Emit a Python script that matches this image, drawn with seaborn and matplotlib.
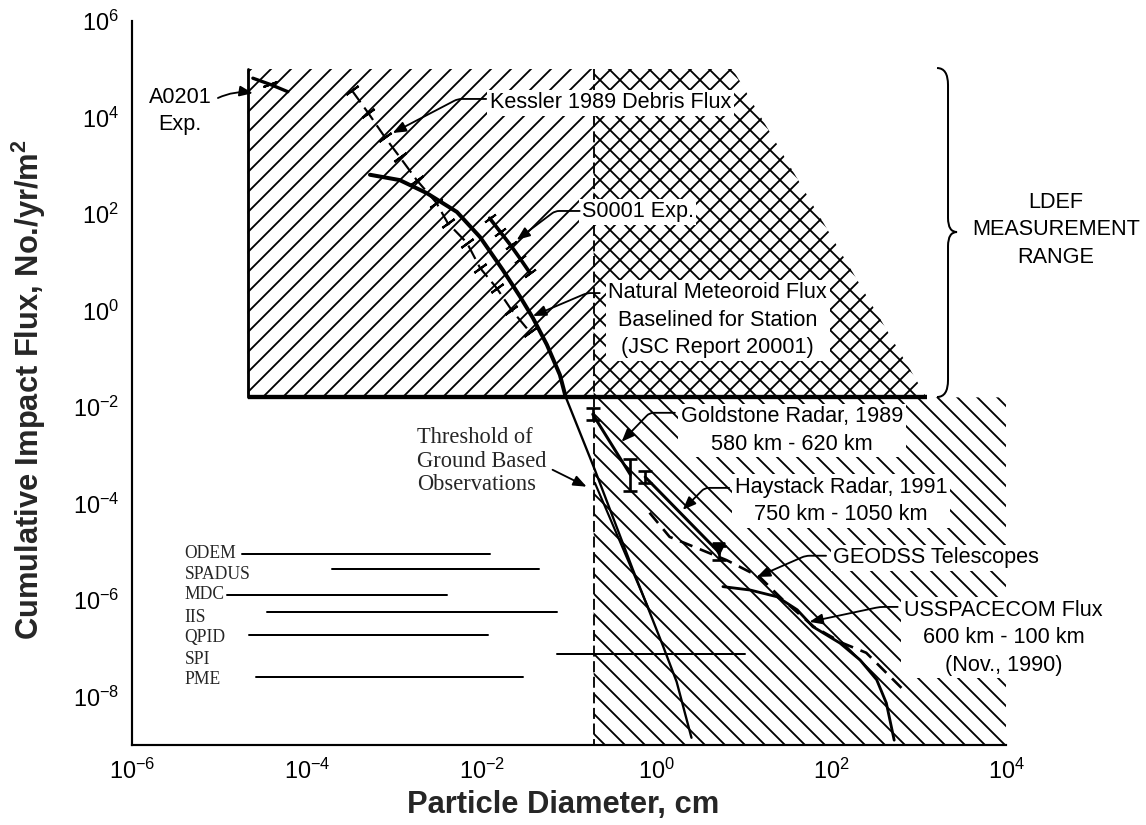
import numpy as np
import pandas as pd
import matplotlib
matplotlib.use("Agg")
import matplotlib.pyplot as plt
import seaborn as sns
from matplotlib.path import Path
from matplotlib.patches import PathPatch
from matplotlib.ticker import FixedLocator, FuncFormatter, NullLocator

# ---------------- data (log10 of diameter [cm] and of flux [No./yr/m2]) ----
# LDEF measurement range polygon
ldef_logx = [-4.68, 0.87, 3.09, -4.68]
ldef_logy = [5.0, 5.0, -1.8, -1.8]
# ground-based observation range polygon
ground_logx = [-0.72, 4.0, 4.0, 3.09, 0.87, -0.72]
ground_logy = [-9.0, -9.0, -1.8, -1.8, 5.0, 5.0]
threshold_logx = -0.72  # threshold of ground based observations (~0.19 cm)

# natural meteoroid flux
met_logx = [-3.28, -2.94, -2.63, -2.285, -2.02, -1.76, -1.56, -1.415, -1.255, -1.106, -1.04]
met_logy = [2.81, 2.70, 2.43, 2.04, 1.52, 0.84, 0.28, -0.155, -0.71, -1.335, -1.79]
met_low_logx = [-1.04, -0.706, -0.27, 0.07, 0.23, 0.40]
met_low_logy = [-1.79, -3.30, -5.37, -6.93, -7.69, -8.85]
thr_logx = [-0.706, -0.08]
thr_logy = [-3.57, -6.22]

# Kessler 1989 debris flux
kessler_logx = [-3.49, -3.30, -3.11, -2.94, -2.745, -2.52, -2.39, -2.17, -2.02, -1.83, -1.66, -1.45]
kessler_logy = [4.565, 4.09, 3.59, 3.18, 2.70, 2.23, 1.81, 1.40, 0.88, 0.465, 0.01, -0.445]

# S0001 and A0201 experiments
s0001_logx = [-1.91, -1.79, -1.67, -1.56, -1.45]
s0001_logy = [1.91, 1.63, 1.35, 1.07, 0.78]
a0201_logx = [-4.62, -4.42, -4.22]
a0201_logy = [4.81, 4.68, 4.53]

# Goldstone radar 1989 and Haystack radar 1991
gold_logx = [-0.73, -0.30]
gold_logy = [-2.15, -3.40]
gold_err = [0.12, 0.33]
hay_logx = [-0.13, 0.72]
hay_logy = [-3.45, -5.02]
hay_err = [0.12, 0.15]

# GEODSS telescopes (dashed) and USSPACECOM flux
geodss_logx = [-0.08, 0.15, 0.80, 1.18, 1.45, 1.80, 2.13, 2.40, 2.86]
geodss_logy = [-4.19, -4.69, -5.17, -5.52, -6.00, -6.55, -6.89, -7.09, -7.92]
ussc_logx = [0.76, 1.07, 1.38, 1.61, 1.79, 2.10, 2.33, 2.52, 2.63, 2.72]
ussc_logy = [-5.72, -5.79, -5.93, -6.20, -6.55, -6.89, -7.24, -7.65, -8.13, -8.90]

# instrument ranges
inst_names = ["ODEM", "SPADUS", "MDC", "IIS", "QPID", "SPI", "PME"]
inst_min_logx = [-4.75, -3.72, -4.92, -4.46, -4.67, -1.14, -4.58]
inst_max_logx = [-1.91, -1.34, -2.40, -1.14, -1.93, 1.01, -1.53]
inst_logy = [-5.04, -5.36, -5.89, -6.25, -6.73, -7.11, -7.59]
inst_label_logy = [-5.04, -5.47, -5.89, -6.35, -6.78, -7.22, -7.65]

x_ticks_exp = list(range(-6, 5))
y_ticks_exp = list(range(-9, 7))

# ---------------- style ------------------------------------------------------
sns.set_theme(style="white")
plt.rcParams.update({
    "font.family": ["Liberation Sans", "DejaVu Sans"],
    "mathtext.fontset": "custom",
    "mathtext.rm": "Liberation Sans",
    "mathtext.default": "regular",
    "hatch.linewidth": 1.1,
    "hatch.color": "black",
    "axes.edgecolor": "black",
})
SERIF = ["Liberation Serif", "DejaVu Serif"]

p10 = lambda a: np.power(10.0, np.asarray(a, dtype=float))


def L(lx, ly):
    return (10.0 ** lx, 10.0 ** ly)


fig = plt.figure(figsize=(9.55, 6.875), dpi=120)
ax = fig.add_axes([0.11545, 0.09697, 0.7624, 0.8779])
ax.set_xscale("log")
ax.set_yscale("log")
ax.set_xlim(1e-6, 1e4)
ax.set_ylim(1e-9, 1e6)

# ---------------- hatched regions ---------------------------------------------
ax.fill(p10(ldef_logx), p10(ldef_logy), facecolor="none", edgecolor="black",
        hatch="//", linewidth=0, zorder=1)
ax.fill(p10(ground_logx), p10(ground_logy), facecolor="none", edgecolor="black",
        hatch="\\\\", linewidth=0, zorder=1)
# LDEF left / bottom borders
ax.plot(p10([ldef_logx[0], ldef_logx[3]]), p10([ldef_logy[0], ldef_logy[3]]),
        color="black", lw=1.7, zorder=3)
ax.plot(p10([ldef_logx[3], ldef_logx[2]]), p10([ldef_logy[3], ldef_logy[2]]),
        color="black", lw=2.6, zorder=3, solid_capstyle="butt")
# threshold dashed vertical line
ax.plot(p10([threshold_logx, threshold_logx]), p10([5.0, -9.0]), color="black",
        lw=1.1, linestyle=(0, (6, 2.5)), zorder=3)

blk = dict(color="black", legend=False, sort=False, estimator=None)

# ---------------- curves ----------------------------------------------------------
sns.lineplot(x=p10(met_logx), y=p10(met_logy), ax=ax, lw=2.4, zorder=4, **blk)
sns.lineplot(x=p10(met_low_logx), y=p10(met_low_logy), ax=ax, lw=1.4, zorder=4, **blk)
sns.lineplot(x=p10(thr_logx), y=p10(thr_logy), ax=ax, lw=1.3, zorder=4, **blk)

sns.lineplot(x=p10(kessler_logx), y=p10(kessler_logy), ax=ax, lw=1.3,
             linestyle=(0, (7, 3)), marker=(2, 2, -54), markersize=9,
             markeredgewidth=1.3, markeredgecolor="black", zorder=4, **blk)
sns.lineplot(x=p10(s0001_logx), y=p10(s0001_logy), ax=ax, lw=2.2,
             marker=(2, 2, -54), markersize=8, markeredgewidth=1.2,
             markeredgecolor="black", zorder=4, **blk)
sns.lineplot(x=p10(a0201_logx), y=p10(a0201_logy), ax=ax, lw=2.0,
             marker=(2, 2, -70), markersize=9, markevery=[1], markeredgewidth=1.3,
             markeredgecolor="black", zorder=4, **blk)

sns.lineplot(x=p10(gold_logx), y=p10(gold_logy), ax=ax, lw=1.8, zorder=4, **blk)
sns.lineplot(x=p10(hay_logx), y=p10(hay_logy), ax=ax, lw=1.8, zorder=4, **blk)
for lx_, ly_, e_ in zip(gold_logx + hay_logx, gold_logy + hay_logy, gold_err + hay_err):
    yv = 10.0 ** ly_
    ax.errorbar([10.0 ** lx_], [yv], yerr=[[yv - 10.0 ** (ly_ - e_)], [10.0 ** (ly_ + e_) - yv]],
                fmt="none", ecolor="black", elinewidth=1.6, capsize=4, capthick=1.6, zorder=5)
ax.plot([10.0 ** hay_logx[1]], [10.0 ** (hay_logy[1] + 0.08)], marker="v", color="black",
        markersize=7, zorder=5)

sns.lineplot(x=p10(geodss_logx), y=p10(geodss_logy), ax=ax, lw=1.6,
             linestyle=(0, (5, 3)), zorder=4, **blk)
sns.lineplot(x=p10(ussc_logx), y=p10(ussc_logy), ax=ax, lw=1.7, zorder=4, **blk)

# ---------------- instrument ranges -------------------------------------------
inst_df = pd.DataFrame({
    "name": np.repeat(inst_names, 2),
    "x": p10(np.ravel(np.column_stack([inst_min_logx, inst_max_logx]))),
    "y": p10(np.repeat(inst_logy, 2)),
})
sns.lineplot(data=inst_df, x="x", y="y", units="name", ax=ax, lw=1.2, zorder=4, **blk)
for name, ly_ in zip(inst_names, inst_label_logy):
    ax.text(*L(-5.40, ly_), name, ha="left", va="center", fontsize=10.5,
            family=SERIF, zorder=6)

# ---------------- axes styling -------------------------------------------------
def fmt(v, pos):
    e = int(round(np.log10(v)))
    return f"$10^{{{e}}}$" if e % 2 == 0 else ""

ax.xaxis.set_major_locator(FixedLocator(p10(x_ticks_exp)))
ax.yaxis.set_major_locator(FixedLocator(p10(y_ticks_exp)))
ax.xaxis.set_minor_locator(NullLocator())
ax.yaxis.set_minor_locator(NullLocator())
ax.xaxis.set_major_formatter(FuncFormatter(fmt))
ax.yaxis.set_major_formatter(FuncFormatter(fmt))
ax.tick_params(axis="both", which="major", direction="in", width=1.3,
               labelsize=14, pad=8, color="black", labelcolor="black")
ax.tick_params(axis="y", length=15)
ax.tick_params(axis="x", length=14)
for s in ["top", "right"]:
    ax.spines[s].set_visible(False)
for s in ["left", "bottom"]:
    ax.spines[s].set_linewidth(1.3)
    ax.spines[s].set_color("black")
ax.grid(False)

ax.set_xlabel("Particle Diameter, cm", fontsize=18.5, fontweight="bold")
ax.set_ylabel("Cumulative Impact Flux, No./yr/m$^2$", fontsize=18.5, fontweight="bold")
ax.xaxis.set_label_coords(0.493, -0.062)
ax.yaxis.set_label_coords(-0.097, 0.49)

# ---------------- annotations ----------------------------------------------------
white = dict(facecolor="white", edgecolor="none", pad=1.5)
TXT = dict(fontsize=13, color="black", zorder=7)


def leader(start, end, angle_b, rad=4, style="angle"):
    if style == "angle":
        cs = f"angle,angleA=0,angleB={angle_b},rad={rad}"
    else:
        cs = f"arc3,rad={rad}"
    ax.annotate("", xy=L(*end), xytext=L(*start), zorder=7,
                arrowprops=dict(arrowstyle="-|>,head_length=0.55,head_width=0.22",
                                color="black", lw=1.1, shrinkA=0, shrinkB=0,
                                connectionstyle=cs))


ax.text(*L(-5.45, 4.13), "A0201\nExp.", ha="center", va="center", linespacing=1.35, **TXT)
leader((-5.02, 4.40), (-4.62, 4.50), 0, rad=-0.15, style="arc")

ax.text(*L(-1.91, 4.30), "Kessler 1989 Debris Flux", ha="left", va="center", bbox=white, **TXT)
leader((-1.95, 4.38), (-3.02, 3.675), 27.6)

ax.text(*L(-0.855, 2.04), "S0001 Exp.", ha="left", va="center", bbox=white, **TXT)
leader((-0.88, 2.06), (-1.60, 1.46), 37)

ax.text(*L(0.70, -0.20), "Natural Meteoroid Flux\nBaselined for Station\n(JSC Report 20001)",
        ha="center", va="center", linespacing=1.4, bbox=white, **TXT)
leader((-0.65, 0.36), (-1.415, -0.115), 23)

ax.text(*L(4.57, 1.67), "LDEF\nMEASUREMENT\nRANGE", ha="center", va="center",
        linespacing=1.4, **TXT)

ax.text(*L(-2.74, -3.12), "Threshold of\nGround Based\nObservations", ha="left",
        va="center", linespacing=1.15, fontsize=13.5, family=SERIF, zorder=7)
ax.annotate("", xy=L(-0.80, -3.65), xytext=L(-1.19, -3.30), zorder=7,
            arrowprops=dict(arrowstyle="-|>,head_length=0.55,head_width=0.22",
                            color="black", lw=1.1, shrinkA=0, shrinkB=0))

ax.text(*L(1.55, -2.49), "Goldstone Radar, 1989\n580 km - 620 km", ha="center",
        va="center", linespacing=1.4, bbox=white, **TXT)
leader((0.21, -2.12), (-0.40, -2.72), 46)

ax.text(*L(2.11, -3.95), "Haystack Radar, 1991\n750 km - 1050 km", ha="center",
        va="center", linespacing=1.4, bbox=white, **TXT)
leader((0.83, -3.675), (0.30, -4.13), 45)

ax.text(*L(3.20, -5.12), "GEODSS Telescopes", ha="center", va="center", bbox=white, **TXT)
leader((1.94, -5.08), (1.15, -5.52), 23.6)

ax.text(*L(3.97, -6.78), "USSPACECOM Flux\n600 km - 100 km\n(Nov., 1990)", ha="center",
        va="center", linespacing=1.4, bbox=white, **TXT)
leader((2.76, -6.14), (1.75, -6.45), 12)

# ---------------- curly brace for the LDEF range ------------------------------------
def axp(px, py):
    return ((px - 132.3) / 873.7, (745.0 - py) / 724.3)

brace_pts = [axp(937, 68), axp(948, 68), axp(948, 85), axp(948, 218), axp(948, 232),
             axp(957, 232), axp(948, 232), axp(948, 246), axp(948, 380), axp(948, 397),
             axp(937, 397)]
brace_codes = [Path.MOVETO, Path.CURVE3, Path.CURVE3, Path.LINETO, Path.CURVE3,
               Path.CURVE3, Path.CURVE3, Path.CURVE3, Path.LINETO, Path.CURVE3, Path.CURVE3]
ax.add_patch(PathPatch(Path(brace_pts, brace_codes), transform=ax.transAxes,
                       fill=False, lw=1.2, edgecolor="black", clip_on=False, zorder=7))

fig.savefig("out.png", dpi=120)
